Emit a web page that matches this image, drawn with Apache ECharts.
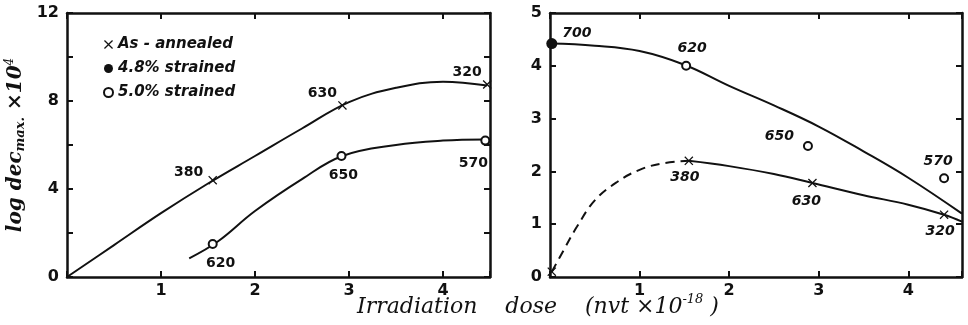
<!DOCTYPE html>
<html>
<head>
<meta charset="utf-8">
<script src="https://cdn.jsdelivr.net/npm/echarts@6/dist/echarts.min.js"></script>
<style>
  html, body { margin: 0; padding: 0; background: #fff; }
  #chart { width: 968px; height: 325px; }
</style>
</head>
<body>
<div id="chart"></div>
<script>
// ---- left panel (log dec max x 10^4) ----
var leftAnnealedX = [1.55, 2.93, 4.47];
var leftAnnealedY = [4.4, 7.8, 8.75];
var leftAnnealedTag = ['380', '630', '320'];
var leftStrainedX = [1.55, 2.92, 4.45];
var leftStrainedY = [1.5, 5.5, 6.2];
var leftStrainedTag = ['620', '650', '570'];
// hand-drawn curves
var leftUpperCurveX = [0, 0.5, 1, 1.5, 2, 2.5, 3, 3.5, 4, 4.47];
var leftUpperCurveY = [0, 1.45, 2.9, 4.25, 5.5, 6.75, 7.95, 8.6, 8.88, 8.7];
var leftLowerCurveX = [1.3, 1.6, 2, 2.5, 2.93, 3.5, 4, 4.45];
var leftLowerCurveY = [0.85, 1.6, 3.0, 4.45, 5.5, 6.0, 6.2, 6.25];

// ---- right panel ----
var rightAnnealedX = [0.02, 1.55, 2.93, 4.4];
var rightAnnealedY = [0.1, 2.2, 1.78, 1.18];
var rightAnnealedTag = ['', '380', '630', '320'];
var rightStrain48X = [0.02];
var rightStrain48Y = [4.42];
var rightStrain48Tag = ['700'];
var rightStrain50X = [1.52, 2.88, 4.4];
var rightStrain50Y = [4.0, 2.48, 1.87];
var rightStrain50Tag = ['620', '650', '570'];
var rightUpperCurveX = [0, 0.5, 1, 1.5, 2, 2.5, 3, 3.5, 4, 4.6];
var rightUpperCurveY = [4.42, 4.38, 4.28, 4.02, 3.62, 3.25, 2.85, 2.38, 1.88, 1.2];
var rightLowerCurveX = [1.55, 2, 2.5, 2.93, 3.5, 4, 4.4, 4.6];
var rightLowerCurveY = [2.2, 2.1, 1.95, 1.78, 1.55, 1.37, 1.18, 1.05];
var rightDashCurveX = [0.02, 0.15, 0.3, 0.5, 0.75, 1, 1.25, 1.55];
var rightDashCurveY = [0.1, 0.5, 0.95, 1.45, 1.8, 2.03, 2.15, 2.2];

var leftYTicks = { min: 0, max: 12, interval: 2 };
var rightYTicks = { min: 0, max: 5, interval: 1 };
var leftXTicks = { min: 0, max: 4.5, interval: 1 };
var rightXTicks = { min: 0, max: 4.6, interval: 1 };

var crossPath = 'path://M0 1L1 0L5 4L9 0L10 1L6 5L10 9L9 10L5 6L1 10L0 9L4 5Z';
var ink = '#111';

function zip(xs, ys) {
	var out = [];
	for (var i = 0; i < xs.length; i++) out.push([xs[i], ys[i]]);
	return out;
}

function tagged(xs, ys, tags, places, italic) {
	var out = [];
	for (var i = 0; i < xs.length; i++) {
		out.push({
			value: [xs[i], ys[i]],
			name: tags[i],
			label: {
				show: tags[i] !== '',
				position: places[i][0],
				offset: places[i][1],
				fontStyle: italic ? 'italic' : 'normal'
			}
		});
	}
	return out;
}

function boxAxis(kind, grid, ticks, pos, labels, fmt) {
	return {
		type: 'value',
		gridIndex: grid,
		position: pos,
		min: ticks.min,
		max: ticks.max,
		interval: ticks.interval,
		splitLine: { show: false },
		axisLine: { show: true, onZero: false, lineStyle: { color: ink, width: 2.5 } },
		axisTick: { show: true, inside: true, length: 6, lineStyle: { color: ink, width: 2 } },
		axisLabel: {
			show: labels,
			color: ink,
			fontFamily: 'DejaVu Sans',
			fontWeight: 'bold',
			fontSize: 16,
			margin: kind === 'x' ? 6 : 8,
			formatter: fmt
		}
	};
}

var xFmt = function (v) { return (v > 0 && v % 1 === 0) ? String(v) : ''; };
var leftYFmt = function (v) { return v % 4 === 0 ? String(v) : ''; };
var rightYFmt = function (v) { return String(v); };

var labelBase = {
	show: true,
	formatter: '{b}',
	color: ink,
	fontFamily: 'DejaVu Sans',
	fontWeight: 'bold',
	fontSize: 14
};

function curve(xAxisIndex, yAxisIndex, xs, ys, dashed) {
	return {
		type: 'line',
		xAxisIndex: xAxisIndex,
		yAxisIndex: yAxisIndex,
		data: zip(xs, ys),
		smooth: 0.4,
		showSymbol: false,
		silent: true,
		z: 1,
		lineStyle: { color: ink, width: 2, type: dashed ? [9, 6] : 'solid' }
	};
}

var chart = echarts.init(document.getElementById('chart'));

var option = {
	backgroundColor: '#fff',
	animation: false,
	grid: [
		{ left: 67, top: 13, width: 423, height: 264 },
		{ left: 550, top: 13, width: 412, height: 264 }
	],
	title: {
		text: '{a|Irradiation    dose    (nvt ×10}{s|-18}{a| )}',
		left: 352,
		top: 288,
		textStyle: {
			fontWeight: 'normal',
			rich: {
				a: { fontFamily: 'DejaVu Serif', fontStyle: 'italic', fontWeight: 'normal', fontSize: 22, color: ink, lineHeight: 28 },
				s: { fontFamily: 'DejaVu Serif', fontStyle: 'italic', fontWeight: 'normal', fontSize: 13, color: ink, verticalAlign: 'top', lineHeight: 28 }
			}
		}
	},
	legend: {
		left: 98,
		top: 32,
		orient: 'vertical',
		itemGap: 9,
		itemWidth: 9,
		itemHeight: 9,
		selectedMode: false,
		data: ['As - annealed', '4.8% strained', '5.0% strained'],
		textStyle: {
			color: ink,
			fontFamily: 'DejaVu Sans',
			fontStyle: 'italic',
			fontWeight: 'bold',
			fontSize: 15
		}
	},
	xAxis: [
		boxAxis('x', 0, leftXTicks, 'bottom', true, xFmt),
		boxAxis('x', 0, leftXTicks, 'top', false, xFmt),
		boxAxis('x', 1, rightXTicks, 'bottom', true, xFmt),
		boxAxis('x', 1, rightXTicks, 'top', false, xFmt)
	],
	yAxis: [
		Object.assign(boxAxis('y', 0, leftYTicks, 'left', true, leftYFmt), {
			name: '{a|log dec}{b|max.}{a| ×10}{c|4}',
			nameLocation: 'middle',
			nameGap: 40,
			nameRotate: 90,
			nameTextStyle: {
				rich: {
					a: { fontFamily: 'DejaVu Serif', fontStyle: 'italic', fontWeight: 'bold', fontSize: 20, color: ink },
					b: { fontFamily: 'DejaVu Serif', fontStyle: 'italic', fontWeight: 'bold', fontSize: 13, color: ink, verticalAlign: 'bottom', padding: [10, 0, 0, 0] },
					c: { fontFamily: 'DejaVu Serif', fontStyle: 'italic', fontSize: 12, color: ink, verticalAlign: 'top' }
				}
			}
		}),
		boxAxis('y', 0, leftYTicks, 'right', false, leftYFmt),
		boxAxis('y', 1, rightYTicks, 'left', true, rightYFmt),
		boxAxis('y', 1, rightYTicks, 'right', false, rightYFmt)
	],
	series: [
		curve(0, 0, leftUpperCurveX, leftUpperCurveY, false),
		curve(0, 0, leftLowerCurveX, leftLowerCurveY, false),
		curve(2, 2, rightUpperCurveX, rightUpperCurveY, false),
		curve(2, 2, rightLowerCurveX, rightLowerCurveY, false),
		curve(2, 2, rightDashCurveX, rightDashCurveY, true),
		{
			name: 'As - annealed',
			type: 'scatter',
			xAxisIndex: 0, yAxisIndex: 0,
			symbol: crossPath,
			symbolSize: 9,
			itemStyle: { color: ink, opacity: 1 },
			label: labelBase,
			data: tagged(leftAnnealedX, leftAnnealedY, leftAnnealedTag,
				[['left', [0, -8]], ['left', [4, -12]], ['left', [4, -12]]], false)
		},
		{
			name: '5.0% strained',
			type: 'scatter',
			xAxisIndex: 0, yAxisIndex: 0,
			symbol: 'circle',
			symbolSize: 8,
			itemStyle: { color: '#fff', borderColor: ink, borderWidth: 2, opacity: 1 },
			label: labelBase,
			data: tagged(leftStrainedX, leftStrainedY, leftStrainedTag,
				[['bottom', [8, 2]], ['bottom', [2, 2]], ['bottom', [-12, 6]]], false)
		},
		{
			name: 'As - annealed',
			type: 'scatter',
			xAxisIndex: 2, yAxisIndex: 2,
			symbol: crossPath,
			symbolSize: 9,
			itemStyle: { color: ink, opacity: 1 },
			label: labelBase,
			data: tagged(rightAnnealedX, rightAnnealedY, rightAnnealedTag,
				[['bottom', [0, 0]], ['bottom', [-4, 0]], ['bottom', [-6, 2]], ['bottom', [-4, 0]]], true)
		},
		{
			name: '4.8% strained',
			type: 'scatter',
			xAxisIndex: 2, yAxisIndex: 2,
			symbol: 'circle',
			symbolSize: 11,
			itemStyle: { color: ink, opacity: 1 },
			label: labelBase,
			data: tagged(rightStrain48X, rightStrain48Y, rightStrain48Tag,
				[['right', [0, -10]]], true)
		},
		{
			name: '5.0% strained',
			type: 'scatter',
			xAxisIndex: 2, yAxisIndex: 2,
			symbol: 'circle',
			symbolSize: 8,
			itemStyle: { color: '#fff', borderColor: ink, borderWidth: 2, opacity: 1 },
			label: labelBase,
			data: tagged(rightStrain50X, rightStrain50Y, rightStrain50Tag,
				[['top', [6, 0]], ['left', [-4, -10]], ['top', [-6, 0]]], true)
		}
	]
};

chart.setOption(option);
</script>
</body>
</html>
